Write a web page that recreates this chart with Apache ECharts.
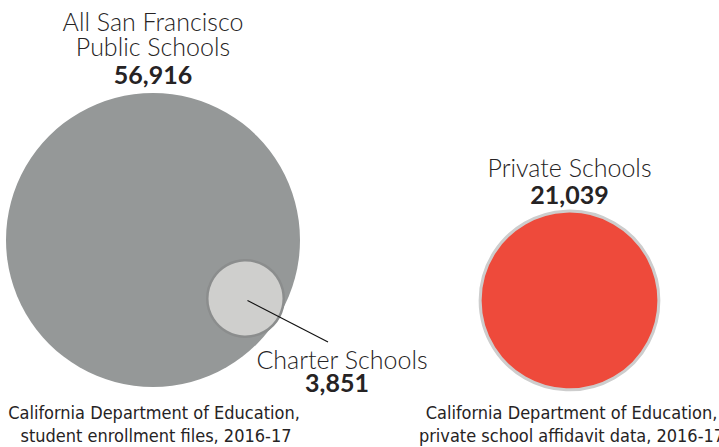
<!DOCTYPE html>
<html>
<head>
<meta charset="utf-8">
<script src="https://cdn.jsdelivr.net/npm/echarts@6/dist/echarts.min.js"></script>
<style>html,body{margin:0;padding:0;background:#fff}#c{width:719px;height:447px}</style>
</head>
<body>
<div id="c"></div>
<script>
// ---- data ----
const names = ['All San Francisco Public Schools', 'Charter Schools', 'Private Schools'];
const titleLines = [['All San Francisco', 'Public Schools'], ['Charter Schools'], ['Private Schools']];
const values = [56916, 3851, 21039];
const sources = [
  ['California Department of Education,', 'student enrollment files, 2016-17'],
  ['California Department of Education,', 'private school affidavit data, 2016-17']
];

// ---- layout (pixel-like coordinate space) ----
const centers = [[153, 240], [245.5, 298.5], [569.5, 300.5]];
const maxDiameter = 294;
const fills = ['#959898', '#cfcfcd', '#ee4a3b'];
const borders = [null, '#8b8d8d', '#cdcdcd'];
const borderW = [0, 2.5, 3];

const fmt = v => v.toLocaleString('en-US');
const sizeOf = v => maxDiameter * Math.sqrt(v / values[0]);

const chart = echarts.init(document.getElementById('c'), null, {renderer: 'svg'});

const data = values.map((v, i) => ({
  name: names[i],
  value: [centers[i][0], centers[i][1], v],
  symbolSize: sizeOf(v),
  itemStyle: {color: fills[i], borderColor: borders[i] || 'transparent', borderWidth: borderW[i], opacity: 1}
}));

chart.setOption({
  animation: false,
  grid: {left: 0, right: 0, top: 0, bottom: 0},
  xAxis: {type: 'value', min: 0, max: 719, show: false},
  yAxis: {type: 'value', min: 0, max: 447, inverse: true, show: false},
  series: [{
    type: 'scatter',
    data: data,
    silent: true,
    z: 2
  }]
});

const titleFont = 'Lato, "Noto Sans", sans-serif';
const srcFont = '"Liberation Sans Narrow", "DejaVu Sans Condensed", sans-serif';
const textColor = '#262324';

function px(i) { return chart.convertToPixel({gridIndex: 0}, centers[i]); }

const g = [];
// baseline -> middle-aligned y
function addText(x, baseline, s, size, weight, family) {
  g.push({type: 'text', x: x, y: baseline - 0.33 * size, z: 10, style: {text: s, fill: textColor, font: weight + ' ' + size + 'px ' + family, align: 'center', verticalAlign: 'middle'}});
}

// Big circle title
const p0 = px(0);
addText(p0[0], 29, titleLines[0][0], 25, 300, titleFont);
addText(p0[0], 54, titleLines[0][1], 25, 300, titleFont);
addText(p0[0], 82, fmt(values[0]), 25, 'bold', titleFont);

// Private title
const p2 = px(2);
addText(p2[0], 175, titleLines[2][0], 25, 300, titleFont);
addText(p2[0], 202, fmt(values[2]), 25, 'bold', titleFont);

// Charter label + leader line
const p1 = px(1);
g.push({type: 'line', z: 10, shape: {x1: p1[0] + 2, y1: p1[1] + 2, x2: 328, y2: 342}, style: {stroke: '#111', lineWidth: 1.2}});
addText(342, 367, titleLines[1][0], 25, 300, titleFont);
addText(337, 390, fmt(values[1]), 25, 'bold', titleFont);

// Sources
addText(p0[0] + 1, 418, sources[0][0], 18, 'normal', srcFont);
addText(p0[0] + 3, 441, sources[0][1], 18, 'normal', srcFont);
addText(p2[0] + 2, 418, sources[1][0], 18, 'normal', srcFont);
addText(p2[0] + 2, 441, sources[1][1], 18, 'normal', srcFont);

chart.setOption({graphic: g});
</script>
</body>
</html>
